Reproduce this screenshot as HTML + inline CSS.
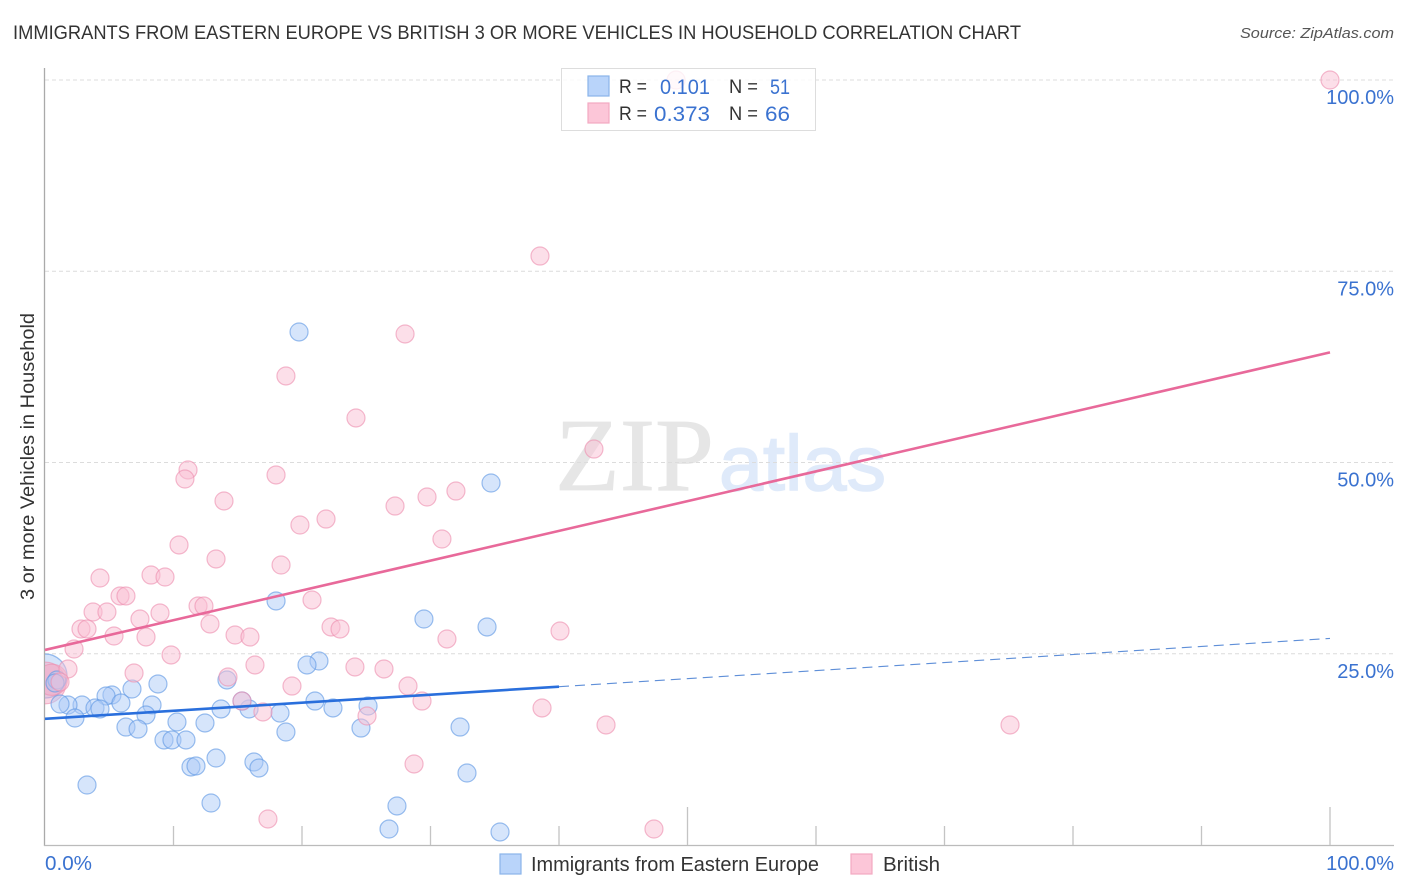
<!DOCTYPE html>
<html lang="en">
<head>
<meta charset="utf-8">
<title>Immigrants from Eastern Europe vs British correlation chart</title>
<style>
html,body{margin:0;padding:0;background:#fff;width:1406px;height:892px;overflow:hidden}
svg{display:block}
text{font-family:"Liberation Sans",sans-serif}
</style>
</head>
<body>
<svg id="chart" xmlns="http://www.w3.org/2000/svg" width="1406" height="892" viewBox="0 0 1406 892">
  <defs><clipPath id="plot-clip"><rect x="45" y="60" width="1349" height="785"/></clipPath></defs>
  <text x="13" y="39" font-size="19.5" fill="#333" textLength="1008" lengthAdjust="spacingAndGlyphs">IMMIGRANTS FROM EASTERN EUROPE VS BRITISH 3 OR MORE VEHICLES IN HOUSEHOLD CORRELATION CHART</text>
  <text x="1394" y="38" font-size="15" font-style="italic" fill="#555" text-anchor="end" textLength="154" lengthAdjust="spacingAndGlyphs">Source: ZipAtlas.com</text>
  <g>
    <text x="555" y="490" font-size="104" fill="#e6e6e6" stroke="#e6e6e6" stroke-width="0.8" style="font-family:'Liberation Serif',serif" textLength="159" lengthAdjust="spacingAndGlyphs">ZIP</text>
    <text x="719" y="490" font-size="78" fill="#dfeafa" stroke="#dfeafa" stroke-width="1.5" textLength="167" lengthAdjust="spacingAndGlyphs">atlas</text>
  </g>
  <g id="grid"></g>
  <g id="axes"></g>
  <g id="points" clip-path="url(#plot-clip)"></g>
  <g id="trends"></g>
  <text transform="translate(34,600) rotate(-90)" font-size="19" fill="#333" textLength="287" lengthAdjust="spacingAndGlyphs">3 or more Vehicles in Household</text>
  <g>
    <rect x="561.5" y="68.5" width="254" height="62" fill="#fff" fill-opacity="0.8" stroke="#ddd"/>
    <rect x="588" y="76" width="21" height="20" fill="#b9d4fa" stroke="#8ab4ea" stroke-width="1.2"/>
    <rect x="588" y="103" width="21" height="20" fill="#fcc6d8" stroke="#f2a9c2" stroke-width="1.2"/>
    <text x="619" y="93" font-size="19" fill="#333" textLength="28" lengthAdjust="spacingAndGlyphs">R =</text>
    <text x="660" y="94" font-size="21" fill="#3a72d0" textLength="50" lengthAdjust="spacingAndGlyphs">0.101</text>
    <text x="729" y="93" font-size="19" fill="#333" textLength="29" lengthAdjust="spacingAndGlyphs">N =</text>
    <text x="770" y="94" font-size="21" fill="#3a72d0" textLength="20" lengthAdjust="spacingAndGlyphs">51</text>
    <text x="619" y="120" font-size="19" fill="#333" textLength="28" lengthAdjust="spacingAndGlyphs">R =</text>
    <text x="654" y="121" font-size="21" fill="#3a72d0" textLength="56" lengthAdjust="spacingAndGlyphs">0.373</text>
    <text x="729" y="120" font-size="19" fill="#333" textLength="29" lengthAdjust="spacingAndGlyphs">N =</text>
    <text x="765" y="121" font-size="21" fill="#3a72d0" textLength="25" lengthAdjust="spacingAndGlyphs">66</text>
  </g>
  <g>
    <rect x="500" y="854" width="21" height="20" fill="#b9d4fa" stroke="#8ab4ea" stroke-width="1.2"/>
    <text x="531" y="871" font-size="20" fill="#333" textLength="288" lengthAdjust="spacingAndGlyphs">Immigrants from Eastern Europe</text>
    <rect x="851" y="854" width="21" height="20" fill="#fcc6d8" stroke="#f2a9c2" stroke-width="1.2"/>
    <text x="883" y="871" font-size="20" fill="#333" textLength="57" lengthAdjust="spacingAndGlyphs">British</text>
  </g>
</svg>
<script>
const blueX = [19.77,34.71,17.98,29.49,34.40,21.32,20.39,14.16,8.79,6.77,5.21,4.75,2.88,1.79,1.17,2.33,3.89,4.28,5.91,8.33,7.86,6.30,7.24,10.27,12.45,13.70,15.88,18.29,21.01,22.41,25.14,24.59,18.75,32.30,9.26,9.88,10.97,11.36,11.75,13.31,16.26,16.65,12.92,3.27,32.84,27.39,26.77,35.41,0.93,0.78,15.33];
const blueY = [67.06,47.32,31.90,29.54,28.50,24.05,23.53,21.57,21.05,20.39,19.61,19.48,18.30,18.30,18.43,16.60,17.91,17.78,18.56,18.30,16.99,15.42,15.16,16.08,15.95,17.78,17.78,17.25,18.82,17.91,18.17,15.29,14.77,15.42,13.73,13.73,13.73,10.20,10.33,11.37,10.85,10.07,5.49,7.84,9.41,5.10,2.09,1.70,21.57,21.18,18.82];
const blueLargeX = [0];
const blueLargeY = [22.09];
const blueLargeWeight = [6];
const pinkX = [100,49.11,38.52,28.02,18.75,24.20,42.72,11.13,10.89,17.98,13.93,31.98,29.73,27.24,21.87,19.84,30.89,10.43,13.31,18.37,4.28,8.25,9.34,5.84,6.30,3.74,4.82,8.95,7.39,11.91,12.37,20.78,12.84,22.26,22.96,40.08,2.80,3.27,5.37,7.86,14.79,15.95,31.28,2.26,9.81,16.34,24.12,26.38,6.93,14.24,1.79,19.22,28.25,15.33,29.34,38.68,16.96,25.06,43.66,75.10,28.72,17.35,47.39,1.17];
const pinkY = [100,100,76.99,66.80,61.31,55.82,51.76,49.02,47.84,48.37,44.97,46.27,45.49,44.31,42.61,41.83,40.00,39.22,37.39,36.60,34.90,35.29,35.03,32.55,32.55,30.46,30.46,30.33,29.54,31.24,31.24,32.03,28.89,28.50,28.24,27.97,28.24,28.24,27.32,27.19,27.45,27.19,26.93,25.62,24.84,23.53,23.27,23.01,22.48,21.96,23.01,20.78,20.78,18.82,18.82,17.91,17.39,16.86,15.69,15.69,10.59,3.40,2.09,21.31];
const pinkLargeX = [0, 0.54];
const pinkLargeY = [21.18, 21.6];
const pinkLargeWeight = [5.4, 3];
const blueTrendEnds = [16.5, 27.0];
const blueTrendSolidEnd = 40;
const pinkTrendEnds = [25.5, 64.4];
const yTicks = [25, 50, 75, 100];
const yTickLabels = ["25.0%", "50.0%", "75.0%", "100.0%"];
const xTicks = [0, 10, 20, 30, 40, 50, 60, 70, 80, 90, 100];
const xMajorTicks = [50, 100];
const xEndLabels = ["0.0%", "100.0%"];

const NS = "http://www.w3.org/2000/svg";
function sx(v) { return 45 + v * 12.85; }
function sy(v) { return 845 - v * 7.65; }
function make(parent, tag, attrs, text) {
  const el = document.createElementNS(NS, tag);
  for (const k in attrs) el.setAttribute(k, attrs[k]);
  if (text !== undefined) el.textContent = text;
  parent.appendChild(el);
  return el;
}
const grid = document.getElementById("grid");
const axes = document.getElementById("axes");
const pts = document.getElementById("points");
const trends = document.getElementById("trends");

yTicks.forEach(function (t, i) {
  const line = make(grid, "line", {x1: 45, x2: 1394, y1: sy(t), y2: sy(t), stroke: "#dcdcdc", "stroke-width": 1, "stroke-dasharray": "4 3"});
  
  
  const label = make(axes, "text", {x: 1394, y: sy(t) + 24, "font-size": 20, fill: "#3a72d0", "text-anchor": "end"}, yTickLabels[i]);
  
  
});

const yAxis = make(axes, "line", {x1: 44.5, x2: 44.5, y1: 68, y2: 846, stroke: "#aaa", "stroke-width": 1.3});


const xAxis = make(axes, "line", {x1: 44, x2: 1394, y1: 845.5, y2: 845.5, stroke: "#bbb", "stroke-width": 1.3});



xTicks.forEach(function (t) {
  if (t === 0) return;
  const top = xMajorTicks.indexOf(t) >= 0 ? 807 : 826;
  const tick = make(axes, "line", {x1: sx(t), x2: sx(t), y1: top, y2: 845, stroke: "#c4c4c4", "stroke-width": 1.3});
  
  
});
const xLabelLeft = make(axes, "text", {x: 45, y: 870, "font-size": 20, fill: "#3a72d0", textLength: 47, lengthAdjust: "spacingAndGlyphs"}, xEndLabels[0]);


const xLabelRight = make(axes, "text", {x: 1394, y: 870, "font-size": 20, fill: "#3a72d0", "text-anchor": "end"}, xEndLabels[1]);



function drawSeries(xs, ys, weights, fill, stroke, fillOpacity, name) {
  xs.forEach(function (x, i) {
    const w = weights ? weights[i] : 1;
    const c = make(pts, "circle", {cx: sx(x), cy: sy(ys[i]), r: 9 * Math.sqrt(w), fill: fill, "fill-opacity": fillOpacity, stroke: stroke, "stroke-opacity": 0.62, "stroke-width": 1.2});
    
    
  });
}
drawSeries(blueLargeX, blueLargeY, blueLargeWeight, "#a9c9f6", "#5f97e4", 0.5, "immigrants-point-large");
drawSeries(pinkLargeX, pinkLargeY, pinkLargeWeight, "#f5a8c4", "#ee8fb0", 0.5, "british-point-large");
drawSeries(blueX, blueY, null, "#a9c9f6", "#5f97e4", 0.48, "immigrants-point");
drawSeries(pinkX, pinkY, null, "#f9c0d4", "#ee8fb0", 0.5, "british-point");

function lerp(ends, x) { return ends[0] + (ends[1] - ends[0]) * x / 100; }
const pinkLine = make(trends, "line", {x1: sx(0), y1: sy(lerp(pinkTrendEnds, 0)), x2: sx(100), y2: sy(lerp(pinkTrendEnds, 100)), stroke: "#e8699a", "stroke-width": 2.6});


const blueSolid = make(trends, "line", {x1: sx(0), y1: sy(lerp(blueTrendEnds, 0)), x2: sx(blueTrendSolidEnd), y2: sy(lerp(blueTrendEnds, blueTrendSolidEnd)), stroke: "#2a6fdc", "stroke-width": 2.6});


const blueDash = make(trends, "line", {x1: sx(blueTrendSolidEnd), y1: sy(lerp(blueTrendEnds, blueTrendSolidEnd)), x2: sx(100), y2: sy(lerp(blueTrendEnds, 100)), stroke: "#5f8fd8", "stroke-width": 1.1, "stroke-dasharray": "10 6"});


</script>
</body>
</html>
